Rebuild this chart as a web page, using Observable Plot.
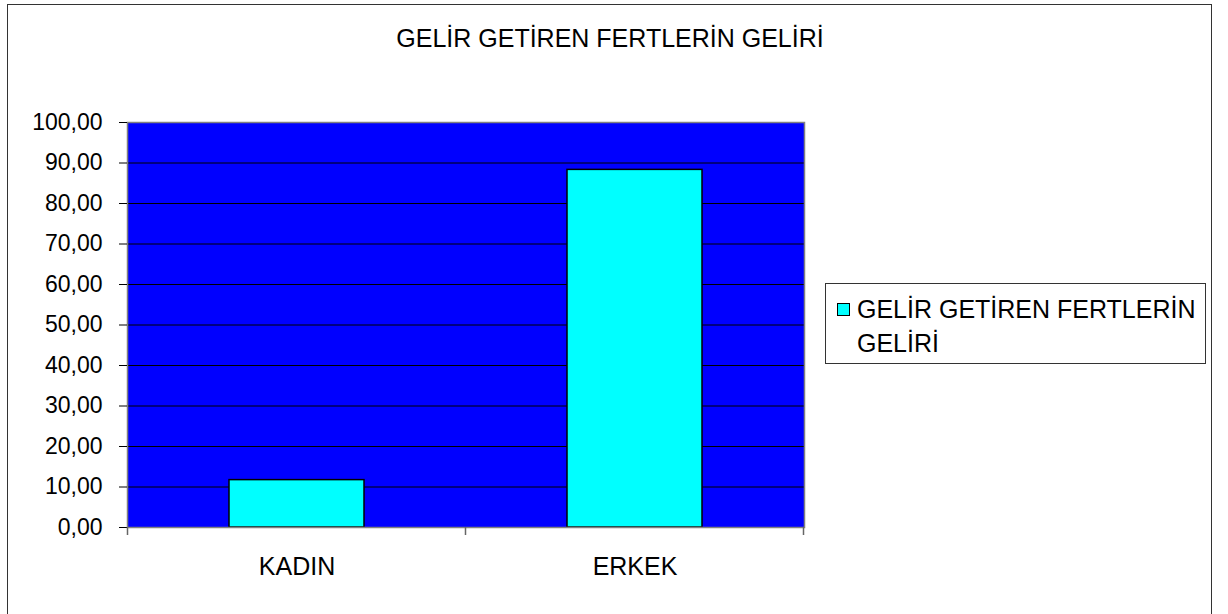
<!DOCTYPE html>
<html>
<head>
<meta charset="utf-8">
<script src="https://cdn.jsdelivr.net/npm/d3@7"></script>
<script src="https://cdn.jsdelivr.net/npm/@observablehq/plot@0.6"></script>
<style>
  html, body { margin: 0; padding: 0; background: #fff; overflow: hidden; }
  #wrap { position: relative; width: 1228px; height: 614px; overflow: hidden; font-family: "Liberation Sans", Arial, sans-serif; color: #000; }
  #frame { position: absolute; left: 7px; top: 4px; width: 1205px; height: 660px; border: 1.5px solid #333; box-sizing: border-box; }
  #chart { position: absolute; left: 0; top: 0; }
  #title { position: absolute; left: 0; top: 26px; width: 1220px; text-align: center; font-size: 25px; line-height: 25px; white-space: nowrap; }
  #legend { position: absolute; left: 825px; top: 283px; width: 381px; height: 81px; border: 1px solid #333; box-sizing: border-box; background: #fff; }
  #legend .sw { position: absolute; left: 11px; top: 19px; width: 13px; height: 13px; background: #00FFFF; border: 1px solid #000; box-sizing: border-box; }
  #legend .txt { position: absolute; left: 31px; top: 8px; font-size: 25px; line-height: 34px; white-space: nowrap; }
</style>
</head>
<body>
<div id="wrap">
  <div id="frame"></div>
  <div id="chart"></div>
  <div id="title"></div>
  <div id="legend"><div class="sw"></div><div class="txt"></div></div>
</div>
<script>
const title = "GELİR GETİREN FERTLERİN GELİRİ";
const seriesName = "GELİR GETİREN FERTLERİN GELİRİ";
const legendLines = ["GELİR GETİREN FERTLERİN", "GELİRİ"];
const categories = ["KADIN", "ERKEK"];
const values = [11.7, 88.3];
const yTicks = [0, 10, 20, 30, 40, 50, 60, 70, 80, 90, 100];

const data = categories.map((c, i) => ({category: c, value: values[i]}));
const fmt = d => d.toFixed(2).replace(".", ",");

document.getElementById("title").textContent = title;
document.querySelector("#legend .txt").innerHTML = legendLines.join("<br>");

const plot = Plot.plot({
  width: 1228,
  height: 614,
  marginLeft: 127,
  marginRight: 424,
  marginTop: 122,
  marginBottom: 87,
  style: {fontFamily: "'Liberation Sans', Arial, sans-serif", background: "transparent", color: "#000", overflow: "visible"},
  x: {domain: categories, paddingInner: 0.6, paddingOuter: 0.3},
  y: {domain: [0, 100]},
  marks: [
    Plot.frame({fill: "#0000FF"}),
    Plot.gridY(yTicks, {stroke: "#000", strokeOpacity: 1, strokeWidth: 1}),
    Plot.barY(data, {x: "category", y: "value", fill: "#00FFFF", stroke: "#000", strokeWidth: 1.5}),
    Plot.frame({stroke: "#808080", strokeWidth: 1.5}),
    Plot.axisY(yTicks, {tickFormat: fmt, tickSize: 8, tickPadding: 17, fontSize: 23, color: "#000", label: null}),
    Plot.axisX({tickSize: 0, tickPadding: 30, fontSize: 25, color: "#000", label: null})
  ]
});
document.getElementById("chart").appendChild(plot);

// category boundary ticks on the x axis (Excel style)
const xs = plot.scale("x");
const ys = plot.scale("y");
const gap = (xs.step - xs.bandwidth) / 2;
const bounds = categories.map(c => xs.apply(c) - gap);
bounds.push(xs.apply(categories[categories.length - 1]) + xs.bandwidth + gap);
const y0 = ys.apply(0);
d3.select(plot).append("g")
  .attr("stroke", "#666")
  .attr("stroke-width", 1.5)
  .selectAll("line")
  .data(bounds)
  .join("line")
  .attr("x1", d => d).attr("x2", d => d)
  .attr("y1", y0).attr("y2", y0 + 8);
</script>
</body>
</html>
